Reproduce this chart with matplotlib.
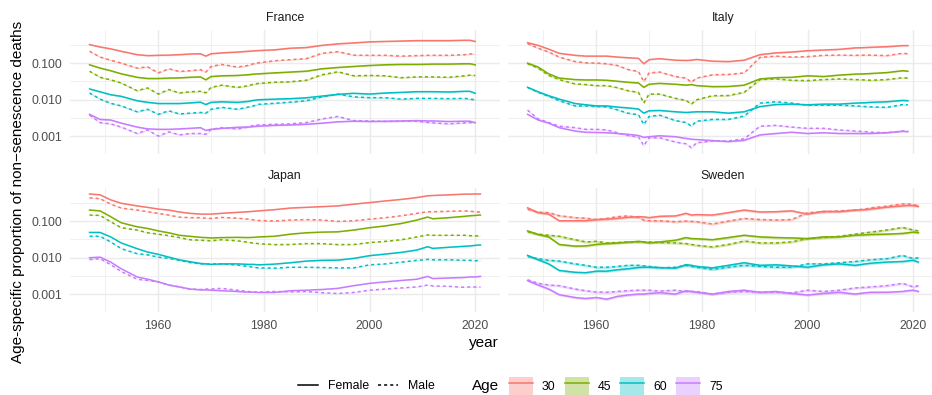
import numpy as np
import matplotlib
matplotlib.use("Agg")
from matplotlib import pyplot as plt
from matplotlib.lines import Line2D
from matplotlib.patches import Patch
from matplotlib.ticker import FixedLocator, FuncFormatter, NullFormatter

nan = np.nan

years = [1947, 1949, 1951, 1953, 1956, 1958, 1960, 1962, 1964, 1966, 1968, 1969,
         1970, 1972, 1975, 1977, 1978, 1979, 1982, 1985, 1988, 1991, 1994, 1997,
         2000, 2003, 2006, 2009, 2011, 2012, 2015, 2018, 2019, 2020, 2021]

# France
france_f30 = [0.32, 0.275, 0.245, 0.21, 0.17, 0.16, 0.163, 0.165, 0.17, 0.177, 0.18, 0.155,
              0.18, 0.19, 0.20, 0.21, 0.215, 0.22, 0.23, 0.255, 0.265, 0.305, 0.335, 0.355,
              0.38, 0.39, 0.40, 0.41, 0.41, 0.41, 0.41, 0.42, 0.42, 0.39, nan]
france_m30 = [0.21, 0.146, 0.12, 0.10, 0.073, 0.079, 0.054, 0.07, 0.059, 0.062, 0.066, 0.057,
              0.081, 0.092, 0.078, 0.086, 0.096, 0.102, 0.116, 0.124, 0.132, 0.185, 0.205, 0.165,
              0.163, 0.163, 0.155, 0.16, 0.163, 0.163, 0.163, 0.17, 0.177, 0.177, nan]
france_f45 = [0.09, 0.073, 0.062, 0.051, 0.041, 0.038, 0.038, 0.039, 0.0395, 0.041, 0.042, 0.035,
              0.043, 0.045, 0.046, 0.048, 0.05, 0.051, 0.054, 0.057, 0.060, 0.070, 0.076, 0.081,
              0.086, 0.09, 0.092, 0.092, 0.093, 0.094, 0.094, 0.096, 0.096, 0.09, nan]
france_m45 = [0.06, 0.041, 0.035, 0.0286, 0.0177, 0.021, 0.0143, 0.019, 0.0153, 0.0165, 0.017, 0.0155,
              0.0218, 0.025, 0.0218, 0.024, 0.0265, 0.028, 0.030, 0.031, 0.034, 0.048, 0.058, 0.045,
              0.046, 0.045, 0.040, 0.042, 0.042, 0.042, 0.041, 0.045, 0.047, 0.046, nan]
france_f60 = [0.0197, 0.0165, 0.0137, 0.0124, 0.0094, 0.0085, 0.0079, 0.0079, 0.0079, 0.0082, 0.0086, 0.0074,
              0.0085, 0.0088, 0.0085, 0.009, 0.0096, 0.010, 0.0104, 0.0107, 0.0113, 0.0126, 0.014, 0.015,
              0.0143, 0.0153, 0.0159, 0.0166, 0.0166, 0.0166, 0.0163, 0.017, 0.017, 0.015, nan]
france_m60 = [0.0153, 0.0104, 0.008, 0.0068, 0.0047, 0.0055, 0.004, 0.005, 0.0041, 0.0043, 0.0045, 0.0043,
              0.0055, 0.0062, 0.0055, 0.0063, 0.0068, 0.0075, 0.008, 0.0086, 0.0094, 0.012, 0.0143, 0.012,
              0.0114, 0.0114, 0.0104, 0.0109, 0.0109, 0.0109, 0.0107, 0.0109, 0.0104, 0.010, nan]
france_f75 = [0.004, 0.0029, 0.0028, 0.0023, 0.0018, 0.0016, 0.00156, 0.00156, 0.0016, 0.00166, 0.00173, 0.00146,
              0.00156, 0.00166, 0.00177, 0.0018, 0.00185, 0.0019, 0.002, 0.00205, 0.00214, 0.0023, 0.0025, 0.0026,
              0.00255, 0.0026, 0.00264, 0.0027, 0.00264, 0.00264, 0.00255, 0.0026, 0.0026, 0.00238, nan]
france_m75 = [0.0038, 0.00238, 0.0022, 0.0018, 0.0012, 0.0015, 0.00102, 0.00133, 0.0011, 0.0012, 0.0012, 0.00114,
              0.00156, 0.00173, 0.0016, 0.0018, 0.002, 0.00205, 0.00214, 0.0022, 0.00238, 0.003, 0.0035, 0.0027,
              0.00264, 0.00255, 0.0026, 0.0026, 0.0024, 0.00234, 0.0022, 0.00234, 0.00238, 0.00238, nan]

# Italy
italy_f30 = [0.36, 0.305, 0.24, 0.185, 0.163, 0.155, 0.155, 0.155, 0.146, 0.14, 0.135, 0.096,
             0.124, 0.132, 0.12, 0.118, 0.12, 0.126, 0.113, 0.11, 0.12, 0.17, 0.19, 0.20,
             0.218, 0.227, 0.237, 0.26, 0.265, 0.27, 0.28, 0.30, 0.30, nan, nan]
italy_m30 = [0.34, 0.255, 0.20, 0.146, 0.11, 0.102, 0.10, 0.096, 0.086, 0.067, 0.059, 0.031,
             0.054, 0.057, 0.043, 0.039, 0.030, 0.039, 0.048, 0.049, 0.054, 0.143, 0.155, 0.146,
             0.15, 0.163, 0.165, 0.163, 0.165, 0.165, 0.16, 0.185, 0.18, nan, nan]
italy_f45 = [0.10, 0.078, 0.051, 0.039, 0.0355, 0.0347, 0.0347, 0.034, 0.032, 0.030, 0.0287, 0.0218,
             0.0265, 0.028, 0.0265, 0.025, 0.026, 0.0243, 0.0228, 0.023, 0.025, 0.037, 0.040, 0.041,
             0.045, 0.043, 0.047, 0.050, 0.051, 0.052, 0.055, 0.062, 0.06, nan, nan]
italy_m45 = [0.096, 0.073, 0.046, 0.0355, 0.027, 0.026, 0.0243, 0.0243, 0.0214, 0.0177, 0.0159, 0.0081,
             0.0143, 0.0143, 0.0109, 0.0096, 0.0076, 0.010, 0.0129, 0.013, 0.0159, 0.0355, 0.037, 0.034,
             0.0333, 0.0355, 0.037, 0.0355, 0.0347, 0.034, 0.0355, 0.040, 0.039, nan, nan]
italy_f60 = [0.0218, 0.0165, 0.0129, 0.0104, 0.0079, 0.0073, 0.0068, 0.0068, 0.0063, 0.006, 0.0056, 0.0043,
             0.005, 0.0051, 0.0047, 0.0045, 0.0046, 0.0047, 0.0047, 0.0043, 0.0047, 0.0065, 0.0074, 0.0076,
             0.0073, 0.0076, 0.0076, 0.0081, 0.0083, 0.0085, 0.0088, 0.0096, 0.0094, nan, nan]
italy_m60 = [0.0218, 0.0159, 0.0124, 0.0094, 0.0068, 0.0068, 0.0065, 0.0064, 0.0053, 0.0043, 0.0039, 0.0021,
             0.0035, 0.0038, 0.0027, 0.0024, 0.0019, 0.0026, 0.0029, 0.0029, 0.0036, 0.0081, 0.0088, 0.0081,
             0.0071, 0.0071, 0.0071, 0.0068, 0.0065, 0.0064, 0.0062, 0.0074, 0.0073, nan, nan]
italy_f75 = [0.004, 0.0028, 0.0023, 0.00173, 0.0014, 0.0013, 0.00128, 0.00126, 0.0012, 0.00114, 0.00106, 0.00094,
             0.00098, 0.00104, 0.00098, 0.00088, 0.00084, 0.00082, 0.00077, 0.00072, 0.00078, 0.0011, 0.0012, 0.0013,
             0.0012, 0.00126, 0.0012, 0.0012, 0.0012, 0.0012, 0.00126, 0.00138, 0.00135, nan, nan]
italy_m75 = [0.0052, 0.003, 0.0024, 0.0019, 0.00173, 0.00156, 0.00156, 0.0015, 0.00126, 0.00106, 0.00096, 0.00056,
             0.00092, 0.00092, 0.0007, 0.00063, 0.00049, 0.00067, 0.00075, 0.00075, 0.00086, 0.0019, 0.002, 0.0018,
             0.00166, 0.00166, 0.0015, 0.0014, 0.00135, 0.0013, 0.00126, 0.0014, 0.00138, nan, nan]

# Japan
japan_f30 = [0.55, 0.52, 0.38, 0.306, 0.26, 0.237, 0.213, 0.20, 0.177, 0.163, 0.155, 0.155,
             0.155, 0.163, 0.173, 0.18, 0.185, 0.19, 0.205, 0.227, 0.237, 0.248, 0.26, 0.29,
             0.32, 0.355, 0.39, 0.44, 0.49, 0.5, 0.52, 0.545, 0.545, 0.55, 0.55]
japan_m30 = [0.43, 0.41, 0.29, 0.227, 0.20, 0.18, 0.163, 0.146, 0.128, 0.124, 0.124, 0.12,
             0.118, 0.126, 0.12, 0.113, 0.108, 0.104, 0.10, 0.107, 0.11, 0.107, 0.098, 0.102,
             0.113, 0.124, 0.14, 0.163, 0.18, 0.18, 0.185, 0.19, 0.185, 0.18, 0.177]
japan_f45 = [0.20, 0.19, 0.132, 0.09, 0.07, 0.063, 0.054, 0.048, 0.041, 0.0385, 0.036, 0.0355,
             0.0347, 0.0355, 0.036, 0.0355, 0.036, 0.037, 0.0385, 0.044, 0.048, 0.050, 0.051, 0.057,
             0.066, 0.074, 0.086, 0.107, 0.129, 0.116, 0.124, 0.135, 0.14, 0.143, 0.146]
japan_m45 = [0.146, 0.143, 0.096, 0.066, 0.057, 0.048, 0.044, 0.040, 0.0355, 0.031, 0.030, 0.0295,
             0.029, 0.031, 0.029, 0.0265, 0.025, 0.0243, 0.0228, 0.023, 0.0243, 0.0243, 0.0228, 0.023,
             0.026, 0.028, 0.031, 0.037, 0.042, 0.041, 0.041, 0.041, 0.040, 0.0395, 0.0395]
japan_f60 = [0.049, 0.049, 0.037, 0.0253, 0.0177, 0.0143, 0.0124, 0.0104, 0.0088, 0.0078, 0.007, 0.0068,
             0.0066, 0.0068, 0.0068, 0.0066, 0.0066, 0.0064, 0.0067, 0.0073, 0.0081, 0.0085, 0.0086, 0.0096,
             0.0114, 0.0126, 0.014, 0.0163, 0.020, 0.018, 0.0193, 0.0206, 0.021, 0.0218, 0.0223]
japan_m60 = [0.0385, 0.0385, 0.027, 0.0177, 0.0129, 0.012, 0.0104, 0.0096, 0.0085, 0.0074, 0.0068, 0.0068,
             0.0068, 0.0068, 0.0063, 0.0058, 0.0055, 0.0053, 0.0052, 0.0055, 0.0055, 0.0054, 0.0053, 0.0053,
             0.0064, 0.0068, 0.0076, 0.0085, 0.009, 0.0088, 0.0088, 0.0085, 0.0085, 0.0083, 0.0085]
japan_f75 = [0.010, 0.0104, 0.0076, 0.005, 0.003, 0.0026, 0.0022, 0.0018, 0.0016, 0.0014, 0.00133, 0.00133,
             0.0013, 0.00126, 0.0012, 0.00115, 0.00115, 0.00113, 0.00113, 0.00126, 0.0013, 0.00136, 0.00146, 0.00173,
             0.002, 0.0022, 0.0024, 0.0026, 0.0031, 0.0027, 0.0028, 0.0029, 0.003, 0.003, 0.0031]
japan_m75 = [0.0089, 0.0094, 0.0065, 0.0042, 0.0026, 0.0024, 0.0022, 0.0018, 0.0016, 0.0014, 0.00136, 0.0014,
             0.0014, 0.00146, 0.0013, 0.0012, 0.00117, 0.00115, 0.0012, 0.00117, 0.0012, 0.00111, 0.00106, 0.00113,
             0.0013, 0.0014, 0.0015, 0.0016, 0.0018, 0.0017, 0.00166, 0.00156, 0.0016, 0.0016, 0.0016]

# Sweden
sweden_f30 = [0.23, 0.17, 0.155, 0.102, 0.102, 0.102, 0.11, 0.113, 0.118, 0.126, 0.132, 0.13,
              0.124, 0.135, 0.138, 0.163, 0.146, 0.15, 0.146, 0.17, 0.20, 0.177, 0.18, 0.19,
              0.155, 0.185, 0.18, 0.20, 0.205, 0.213, 0.24, 0.26, 0.265, 0.265, 0.25]
sweden_m30 = [0.21, 0.175, 0.17, 0.14, 0.124, 0.12, 0.11, 0.118, 0.132, 0.138, 0.126, 0.107,
              0.102, 0.102, 0.096, 0.10, 0.098, 0.096, 0.083, 0.10, 0.118, 0.11, 0.107, 0.11,
              0.17, 0.177, 0.19, 0.20, 0.215, 0.23, 0.255, 0.295, 0.295, 0.28, 0.265]
sweden_f45 = [0.054, 0.043, 0.037, 0.023, 0.0207, 0.021, 0.023, 0.0243, 0.0253, 0.0265, 0.028, 0.027,
              0.0253, 0.027, 0.030, 0.0355, 0.0333, 0.033, 0.031, 0.0355, 0.041, 0.037, 0.0355, 0.0347,
              0.0333, 0.037, 0.037, 0.041, 0.042, 0.043, 0.044, 0.046, 0.048, 0.050, 0.048]
sweden_m45 = [0.051, 0.044, 0.041, 0.0385, 0.031, 0.027, 0.028, 0.0253, 0.026, 0.027, 0.027, 0.027,
              0.027, 0.026, 0.0253, 0.0243, 0.023, 0.0218, 0.0197, 0.023, 0.0286, 0.0253, 0.0253, 0.027,
              0.0333, 0.0355, 0.0385, 0.044, 0.048, 0.050, 0.057, 0.067, 0.062, 0.057, 0.054]
sweden_f60 = [0.0116, 0.0088, 0.0068, 0.0045, 0.004, 0.0039, 0.0043, 0.0043, 0.0047, 0.005, 0.0054, 0.0055,
              0.0055, 0.0054, 0.0052, 0.0065, 0.0062, 0.0058, 0.0053, 0.0062, 0.0073, 0.0062, 0.0064, 0.006,
              0.0055, 0.0064, 0.0068, 0.0062, 0.0068, 0.0071, 0.0076, 0.0079, 0.0082, 0.0085, 0.0076]
sweden_m60 = [0.0109, 0.0094, 0.0085, 0.0081, 0.0068, 0.0062, 0.0055, 0.0055, 0.0058, 0.0062, 0.0062, 0.006,
              0.0058, 0.0053, 0.0055, 0.0062, 0.0058, 0.0055, 0.0048, 0.0055, 0.0062, 0.0058, 0.0055, 0.0055,
              0.0068, 0.0068, 0.0073, 0.0079, 0.0085, 0.0088, 0.0094, 0.0116, 0.0104, 0.0096, 0.010]
sweden_f75 = [0.00238, 0.0018, 0.0014, 0.00098, 0.00082, 0.00077, 0.00082, 0.00074, 0.00088, 0.00096, 0.00102, 0.00102,
              0.00106, 0.00111, 0.00102, 0.00126, 0.0012, 0.00114, 0.00102, 0.0012, 0.0013, 0.00114, 0.0012, 0.00106,
              0.00096, 0.00106, 0.00114, 0.00102, 0.00111, 0.00114, 0.00114, 0.0012, 0.00126, 0.0013, 0.0012]
sweden_m75 = [0.0025, 0.002, 0.0018, 0.00173, 0.0014, 0.00126, 0.00116, 0.00114, 0.0012, 0.00126, 0.0013, 0.0013,
              0.0013, 0.00123, 0.0013, 0.0012, 0.0012, 0.0012, 0.00102, 0.00114, 0.0012, 0.00114, 0.00114, 0.0011,
              0.0013, 0.0012, 0.0013, 0.0015, 0.00156, 0.0016, 0.00173, 0.002, 0.0018, 0.0016, 0.00173]

countries = ["France", "Italy", "Japan", "Sweden"]
ages = [30, 45, 60, 75]
age_colors = ["#F8766D", "#7CAE00", "#00BFC4", "#C77CFF"]
# multiplicative half-width of the confidence band
band_factor = {"France": 1.04, "Italy": 1.04, "Japan": 1.02, "Sweden": 1.08}

series = {
    "France": {"Female": [france_f30, france_f45, france_f60, france_f75],
               "Male": [france_m30, france_m45, france_m60, france_m75]},
    "Italy": {"Female": [italy_f30, italy_f45, italy_f60, italy_f75],
              "Male": [italy_m30, italy_m45, italy_m60, italy_m75]},
    "Japan": {"Female": [japan_f30, japan_f45, japan_f60, japan_f75],
              "Male": [japan_m30, japan_m45, japan_m60, japan_m75]},
    "Sweden": {"Female": [sweden_f30, sweden_f45, sweden_f60, sweden_f75],
               "Male": [sweden_m30, sweden_m45, sweden_m60, sweden_m75]},
}
dash = {"Female": "-", "Male": (0, (2, 2))}

W, H = 932, 395
plt.rcParams['font.family'] = ['Liberation Sans', 'DejaVu Sans']
fig = plt.figure(figsize=(W / 100, H / 100), dpi=100)


def add_panel(left, top, right, bottom):
    return fig.add_axes([left / W, 1 - bottom / H, (right - left) / W, (bottom - top) / H])


# panel boxes in pixels: left, top, right, bottom (right column runs past the crop)
boxes = {"France": (70, 30, 500, 154), "Italy": (508, 30, 938, 154),
         "Japan": (70, 188, 500, 312), "Sweden": (508, 188, 938, 312)}

# shared scales, 5% padding like ggplot
yrs = np.array(years, dtype=float)
allvals = []
for c in countries:
    for sex in ["Female", "Male"]:
        for v in series[c][sex]:
            v = np.array(v, dtype=float)
            allvals += list(v / band_factor[c]) + list(v * band_factor[c])
lo, hi = np.log10(np.nanmin(allvals)), np.log10(np.nanmax(allvals))
pad = 0.05 * (hi - lo)
ylim = (10 ** (lo - pad), 10 ** (hi + pad))
xpad = 0.05 * (yrs.max() - yrs.min())
xlim = (yrs.min() - xpad, yrs.max() + xpad)

grid_col = "#EBEBEB"
for i, c in enumerate(countries):
    l, t, r, b = boxes[c]
    ax = add_panel(l, t, r, b)
    ax.set_yscale("log")
    ax.set_xlim(*xlim)
    ax.set_ylim(*ylim)
    ax.xaxis.set_major_locator(FixedLocator([1960, 1980, 2000, 2020]))
    ax.xaxis.set_minor_locator(FixedLocator([1950, 1970, 1990, 2010]))
    ax.yaxis.set_major_locator(FixedLocator([0.001, 0.01, 0.1]))
    ax.yaxis.set_minor_locator(FixedLocator([10 ** -3.5, 10 ** -2.5, 10 ** -1.5, 10 ** -0.5]))
    ax.yaxis.set_major_formatter(FuncFormatter(lambda v, p: f"{v:.3f}"))
    ax.yaxis.set_minor_formatter(NullFormatter())
    ax.grid(which="major", color=grid_col, lw=1.07)
    ax.grid(which="minor", color=grid_col, lw=0.53)
    ax.set_axisbelow(True)
    for s in ax.spines.values():
        s.set_visible(False)
    ax.tick_params(which="both", length=0, labelsize=8.8, labelcolor="#4D4D4D", pad=5.5)
    ax.tick_params(axis="y", labelleft=(i % 2 == 0))
    ax.tick_params(axis="x", labelbottom=(i >= 2))

    f = band_factor[c]
    for sex in ["Female", "Male"]:
        for vals, col in zip(series[c][sex], age_colors):
            v = np.array(vals, dtype=float)
            ax.fill_between(yrs, v / f, v * f, color=col, alpha=0.3, lw=0)
    for sex in ["Female", "Male"]:
        for vals, col in zip(series[c][sex], age_colors):
            ax.plot(yrs, vals, color=col, lw=1.1, linestyle=dash[sex])

    fig.text((l + r) / 2 / W, 1 - (t - 12) / H, c,
             ha="center", va="center", fontsize=8.8, color="#1A1A1A")

fig.text(484 / W, 1 - 343 / H, "year", ha="center", va="center", fontsize=11)
fig.text(18 / W, 1 - 192 / H, "Age-specific proportion of non\u2212senescence deaths",
         ha="center", va="center", rotation=90, fontsize=11)

# legends
ly = 1 - 386 / H
sex_handles = [Line2D([], [], color="black", lw=1.1, linestyle=dash[s]) for s in ["Female", "Male"]]
fig.legend(sex_handles, ["Female", "Male"], loc="center left", bbox_to_anchor=(298 / W, ly),
           ncol=2, frameon=False, fontsize=8.8, handlelength=1.65, handletextpad=0.8,
           columnspacing=0.75, borderpad=0, borderaxespad=0)
age_handles = [(Patch(facecolor=col, alpha=0.35, lw=0), Line2D([], [], color=col, lw=1.1))
               for col in age_colors]
fig.legend(age_handles, [str(a) for a in ages], loc="center left", bbox_to_anchor=(509 / W, ly),
           ncol=4, frameon=False, fontsize=8.8, handlelength=1.95, handleheight=1.9,
           handletextpad=0.75, columnspacing=0.75, borderpad=0, borderaxespad=0)
fig.text(472 / W, ly, "Age", ha="left", va="center", fontsize=11)

fig.savefig("out.png", dpi=100)
